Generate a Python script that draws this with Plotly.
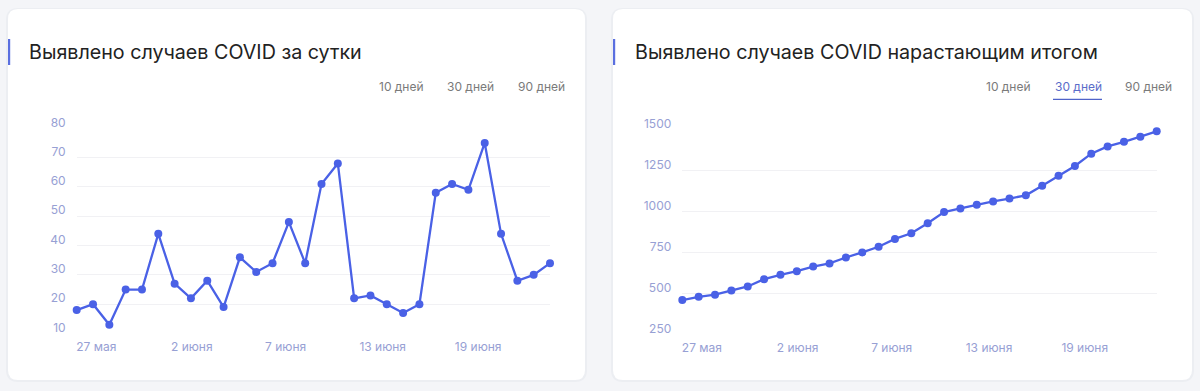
import plotly.graph_objects as go

# ---- data ----
days = list(range(30))  # 27 May .. 25 June
daily_cases = [18, 20, 13, 25, 25, 44, 27, 22, 28, 19, 36, 31, 34, 48, 34,
               61, 68, 22, 23, 20, 17, 20, 58, 61, 59, 75, 44, 28, 30, 34]
cumulative_cases = [462, 482, 495, 520, 545, 589, 616, 638, 666, 685, 721, 752, 786, 834, 868,
                    929, 997, 1019, 1042, 1062, 1079, 1099, 1157, 1218, 1277, 1352, 1396, 1424, 1454, 1488]
x_tick_pos = [1.2, 7.05, 12.8, 18.75, 24.6]
x_tick_labels = ["27 мая", "2 июня", "7 июня", "13 июня", "19 июня"]
left_y_ticks = [10, 20, 30, 40, 50, 60, 70, 80]
right_y_ticks = [250, 500, 750, 1000, 1250, 1500]
left_title = "Выявлено случаев COVID за сутки"
right_title = "Выявлено случаев COVID нарастающим итогом"
buttons = ["10 дней", "30 дней", "90 дней"]

W, H = 1200, 391
LINE = "#4a61e6"
TICK = "#97a0d4"
GRID = "#f1f1f4"
FONT = "Inter"


def px(x):
    return x / W


def py(y):
    return 1 - y / H


def rrect(x0, y0, x1, y1, r):
    p = []
    p.append(f"M {px(x0 + r)} {py(y0)}")
    p.append(f"L {px(x1 - r)} {py(y0)}")
    p.append(f"Q {px(x1)} {py(y0)} {px(x1)} {py(y0 + r)}")
    p.append(f"L {px(x1)} {py(y1 - r)}")
    p.append(f"Q {px(x1)} {py(y1)} {px(x1 - r)} {py(y1)}")
    p.append(f"L {px(x0 + r)} {py(y1)}")
    p.append(f"Q {px(x0)} {py(y1)} {px(x0)} {py(y1 - r)}")
    p.append(f"L {px(x0)} {py(y0 + r)}")
    p.append(f"Q {px(x0)} {py(y0)} {px(x0 + r)} {py(y0)}")
    p.append("Z")
    return " ".join(p)


fig = go.Figure()
fig.add_trace(go.Scatter(x=days, y=daily_cases, mode="lines+markers", xaxis="x", yaxis="y",
                         line=dict(color=LINE, width=2.3), marker=dict(color=LINE, size=8),
                         cliponaxis=False, showlegend=False, hoverinfo="y"))
fig.add_trace(go.Scatter(x=days, y=cumulative_cases, mode="lines+markers", xaxis="x2", yaxis="y2",
                         line=dict(color=LINE, width=2.3), marker=dict(color=LINE, size=8),
                         cliponaxis=False, showlegend=False, hoverinfo="y"))

xcommon = dict(range=[0, 29], showgrid=False, zeroline=False, showline=False, automargin=False,
               tickmode="array", tickvals=x_tick_pos, ticktext=x_tick_labels,
               tickfont=dict(family=FONT, size=12, color=TICK), ticks="",
               ticklabelstandoff=4)
ycommon = dict(showgrid=True, gridcolor=GRID, gridwidth=1, zeroline=False, showline=False,
               automargin=False,
               tickmode="array", tickfont=dict(family=FONT, size=12, color=TICK), ticks="",
               ticklabelstandoff=10, ticklabelshift=-6)

fig.update_layout(
    width=W, height=H, autosize=False,
    margin=dict(l=0, r=0, t=0, b=0, pad=0, autoexpand=False),
    paper_bgcolor="#f4f5f8", plot_bgcolor="rgba(0,0,0,0)",
    xaxis=dict(domain=[px(76.7), px(550)], anchor="y", **xcommon),
    yaxis=dict(domain=[py(333.5), py(128.3)], anchor="x", range=[10, 80],
               tickvals=left_y_ticks, **ycommon),
    xaxis2=dict(domain=[px(682.3), px(1156.7)], anchor="y2", **xcommon),
    yaxis2=dict(domain=[py(335), py(129.3)], anchor="x2", range=[250, 1500],
                tickvals=right_y_ticks, **ycommon),
)

shapes = []
for (x0, x1) in [(8, 585), (613, 1192)]:
    # soft shadow
    shapes.append(dict(type="path", xref="paper", yref="paper", layer="below",
                       path=rrect(x0 - 2, 8, x1 + 2, 382, 12),
                       fillcolor="#eceef2", line=dict(width=0)))
    shapes.append(dict(type="path", xref="paper", yref="paper", layer="below",
                       path=rrect(x0, 9, x1, 380, 10),
                       fillcolor="#ffffff", line=dict(width=0)))
# accent bars
for xb in [8, 613]:
    shapes.append(dict(type="rect", xref="paper", yref="paper", layer="above",
                       x0=px(xb), x1=px(xb + 2.2), y0=py(65), y1=py(39),
                       fillcolor="#5a6fe0", line=dict(width=0)))
# active button underline
shapes.append(dict(type="line", xref="paper", yref="paper",
                   x0=px(1053), x1=px(1102), y0=py(99.3), y1=py(99.3),
                   line=dict(color="#4f63c9", width=1.3)))
fig.update_layout(shapes=shapes)

ann = []
ann.append(dict(text=left_title, x=px(26.5), y=py(52), xref="paper", yref="paper",
                xanchor="left", yanchor="middle", showarrow=False,
                font=dict(family=FONT, size=19.7, color="#222222")))
ann.append(dict(text=right_title, x=px(632.5), y=py(52), xref="paper", yref="paper",
                xanchor="left", yanchor="middle", showarrow=False,
                font=dict(family=FONT, size=19.7, color="#222222")))
left_btn_x = [401.5, 470.5, 541.5]
right_btn_x = [1008, 1078, 1148.5]
for i, b in enumerate(buttons):
    ann.append(dict(text=b, x=px(left_btn_x[i]), y=py(87), xref="paper", yref="paper",
                    xanchor="center", yanchor="middle", showarrow=False,
                    font=dict(family=FONT, size=12, color="#7a7a7a")))
    ann.append(dict(text=b, x=px(right_btn_x[i]), y=py(87), xref="paper", yref="paper",
                    xanchor="center", yanchor="middle", showarrow=False,
                    font=dict(family=FONT, size=12,
                              color="#5a6cc9" if i == 1 else "#7a7a7a")))
fig.update_layout(annotations=ann)

fig.write_html("out.html", config={"displayModeBar": False},
               post_script="document.body.style.margin='0';document.body.style.overflow='hidden';")
